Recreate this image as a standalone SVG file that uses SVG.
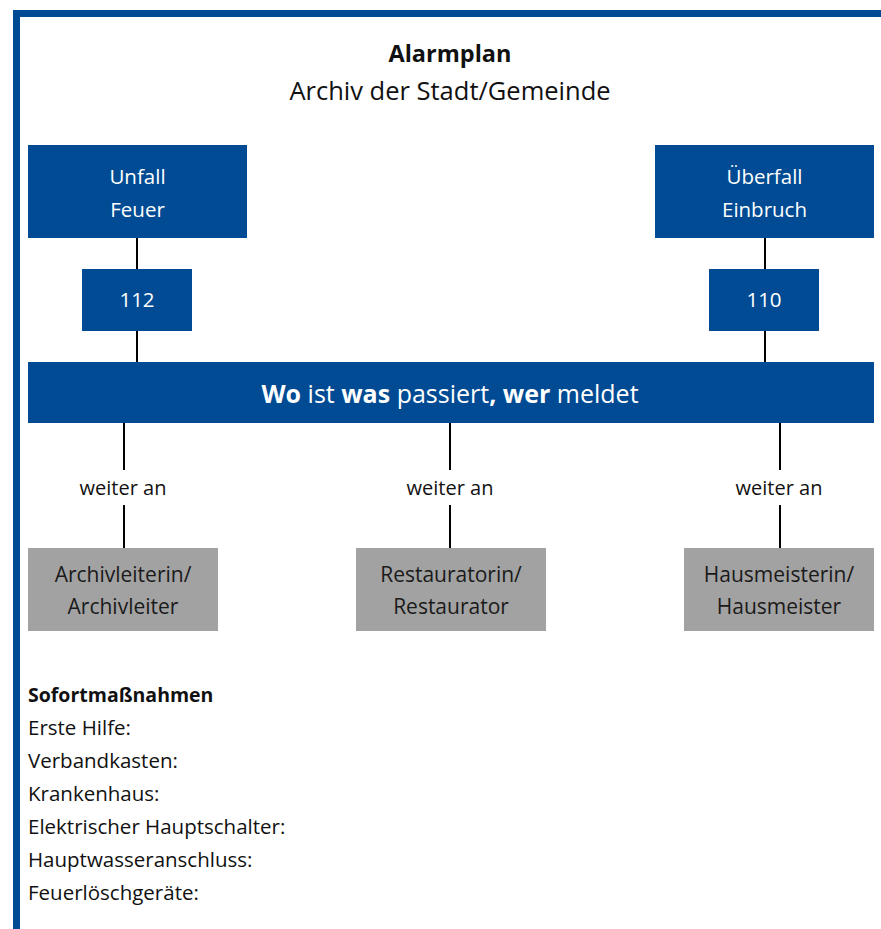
<svg xmlns="http://www.w3.org/2000/svg" width="881" height="929" viewBox="0 0 881 929">
<style>
text{font-family:"Open Sans","Noto Sans","Liberation Sans",sans-serif}
.blue{fill:#004b93}
.gray{fill:#a2a2a2}
.wt{fill:#ffffff;font-size:20.5px;text-anchor:middle}
.gt{fill:#1a1a1a;font-size:21px;text-anchor:middle}
.lbl{fill:#111;font-size:20px;text-anchor:middle}
.lst{fill:#111;font-size:20.5px}
.con{stroke:#000;stroke-width:2;fill:none}
</style>
<rect x="0" y="0" width="881" height="929" fill="#fff"/>
<g id="frame">
<rect x="13" y="10" width="868" height="7" class="blue"/>
<rect x="13" y="10" width="7" height="919" class="blue"/>
</g>
<g id="title">
<text x="450" y="62" style="font-size:23.5px;font-weight:bold;text-anchor:middle;fill:#111">Alarmplan</text>
<text x="450" y="100" style="font-size:25.5px;text-anchor:middle;fill:#111">Archiv der Stadt/Gemeinde</text>
</g>
<g id="connectors">
<line x1="137" y1="238" x2="137" y2="269" class="con"/>
<line x1="137" y1="331" x2="137" y2="362" class="con"/>
<line x1="765" y1="238" x2="765" y2="269" class="con"/>
<line x1="765" y1="331" x2="765" y2="362" class="con"/>
<line x1="124" y1="423" x2="124" y2="470" class="con"/>
<line x1="124" y1="505" x2="124" y2="548" class="con"/>
<line x1="450" y1="423" x2="450" y2="470" class="con"/>
<line x1="450" y1="505" x2="450" y2="548" class="con"/>
<line x1="780" y1="423" x2="780" y2="470" class="con"/>
<line x1="780" y1="505" x2="780" y2="548" class="con"/>
<text x="123" y="495" class="lbl">weiter an</text>
<text x="450" y="495" class="lbl">weiter an</text>
<text x="779" y="495" class="lbl">weiter an</text>
</g>
<g id="unfall">
<rect x="28" y="145" width="219" height="93" class="blue"/>
<text x="137.5" y="184" class="wt">Unfall</text>
<text x="137.5" y="217" class="wt">Feuer</text>
</g>
<g id="n112">
<rect x="82" y="269" width="110" height="62" class="blue"/>
<text x="137" y="307" class="wt">112</text>
</g>
<g id="ueberfall">
<rect x="655" y="145" width="219" height="93" class="blue"/>
<text x="764.5" y="184" class="wt">Überfall</text>
<text x="764.5" y="217" class="wt">Einbruch</text>
</g>
<g id="n110">
<rect x="709" y="269" width="110" height="62" class="blue"/>
<text x="764" y="307" class="wt">110</text>
</g>
<g id="wo">
<rect x="28" y="362" width="846" height="61" class="blue"/>
<text x="450" y="403" style="fill:#fff;font-size:25px;text-anchor:middle"><tspan font-weight="bold">Wo</tspan> ist <tspan font-weight="bold">was</tspan> passiert<tspan font-weight="bold">,</tspan> <tspan font-weight="bold">wer</tspan> meldet</text>
</g>
<g id="archivleiter">
<rect x="28" y="548" width="190" height="83" class="gray"/>
<text x="123" y="582" class="gt">Archivleiterin/</text>
<text x="123" y="614" class="gt">Archivleiter</text>
</g>
<g id="restaurator">
<rect x="356" y="548" width="190" height="83" class="gray"/>
<text x="451" y="582" class="gt">Restauratorin/</text>
<text x="451" y="614" class="gt">Restaurator</text>
</g>
<g id="hausmeister">
<rect x="684" y="548" width="190" height="83" class="gray"/>
<text x="779" y="582" class="gt">Hausmeisterin/</text>
<text x="779" y="614" class="gt">Hausmeister</text>
</g>
<g id="sofort">
<text x="28" y="702" class="lst" font-weight="bold" style="font-size:19.5px">Sofortmaßnahmen</text>
<text x="28" y="735" class="lst">Erste Hilfe:</text>
<text x="28" y="768" class="lst">Verbandkasten:</text>
<text x="28" y="801" class="lst">Krankenhaus:</text>
<text x="28" y="834" class="lst">Elektrischer Hauptschalter:</text>
<text x="28" y="867" class="lst">Hauptwasseranschluss:</text>
<text x="28" y="900" class="lst">Feuerlöschgeräte:</text>
</g>
</svg>
